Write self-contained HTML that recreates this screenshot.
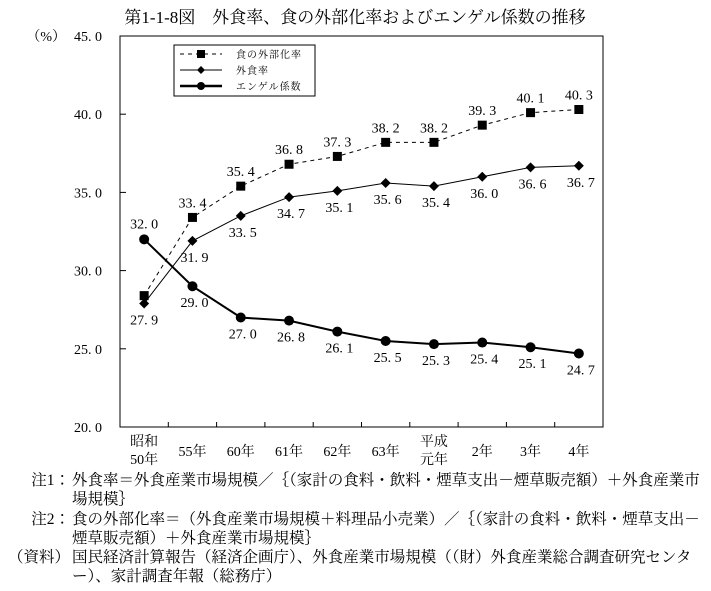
<!DOCTYPE html>
<html><head><meta charset="utf-8"><style>
body{margin:0;background:#fff;width:711px;height:591px;overflow:hidden;font-family:"Liberation Serif","Noto Serif CJK JP","Noto Serif CJK SC",serif;color:#000}
svg text{font-family:"Liberation Serif","Noto Serif CJK JP","Noto Serif CJK SC",serif}
.notes{position:absolute;left:0;top:471px;font-size:15.5px;line-height:19.3px}
.row{position:relative;padding-left:72px;width:630px;word-break:break-all}
.row span{position:absolute;left:0;width:70px;text-align:right}
</style></head><body>
<svg width="711" height="470" style="position:absolute;left:0;top:0">
<text x="355" y="23" font-size="17" text-anchor="middle">第1-1-8図　外食率、食の外部化率およびエンゲル係数の推移</text>
<g id="g"></g>
</svg>
<div class="notes">
<div class="row"><span>注1：</span>外食率＝外食産業市場規模／｛（家計の食料・飲料・煙草支出－煙草販売額）＋外食産業市場規模｝</div>
<div class="row"><span>注2：</span>食の外部化率＝（外食産業市場規模＋料理品小売業）／｛（家計の食料・飲料・煙草支出－煙草販売額）＋外食産業市場規模｝</div>
<div class="row"><span>（資料）</span>国民経済計算報告（経済企画庁）、外食産業市場規模（（財）外食産業総合調査研究センター）、家計調査年報（総務庁）</div>
</div>
<script>
const categories=["昭和\n50年","55年","60年","61年","62年","63年","平成\n元年","2年","3年","4年"];
const gaishokuKa=[28.4,33.4,35.4,36.8,37.3,38.2,38.2,39.3,40.1,40.3];
const gaishoku=[27.9,31.9,33.5,34.7,35.1,35.6,35.4,36.0,36.6,36.7];
const engel=[32.0,29.0,27.0,26.8,26.1,25.5,25.3,25.4,25.1,24.7];
const yTicks=[20,25,30,35,40,45];
const NS="http://www.w3.org/2000/svg";
const L=120,R=603,T=36,B=427,yMin=20,yMax=45;
const g=document.getElementById('g');
const bw=(R-L)/categories.length;
function x(i){return L+bw*(i+0.5);}
function y(v){return B-(v-yMin)/(yMax-yMin)*(B-T);}
function mk(tag,a){const e=document.createElementNS(NS,tag);for(const k in a)e.setAttribute(k,a[k]);g.appendChild(e);return e;}
const frame=mk('rect',{x:L,y:T,width:R-L,height:B-T,fill:'none',stroke:'#000','stroke-width':1});


yTicks.forEach(v=>{
 const t=mk('line',{x1:L,x2:L+6,y1:y(v),y2:y(v),stroke:'#000'});
 
 
 const tx=mk('text',{x:L-18,y:y(v)+5,'font-size':14,'text-anchor':'end'});
 tx.textContent=v.toFixed(1).replace('.','. ');
 
 
});
const pu=mk('text',{x:L-54,y:y(45)+5,'font-size':14,'text-anchor':'end'});pu.textContent='（%）';


categories.forEach((c,i)=>{
 if(i>0){const t=mk('line',{x1:L+bw*i,x2:L+bw*i,y1:B,y2:B-5,stroke:'#000'});
 
 }
 const parts=c.split('\n');
 parts.forEach((p,k)=>{
  const tx=mk('text',{x:x(i),y:(parts.length>1?B+19+k*18:B+29),'font-size':14,'text-anchor':'middle'});
  tx.textContent=p;
  
  
 });
});
function series(arr,name,dash,sw,marker,labelPos){
 const pts=arr.map((v,i)=>x(i)+','+y(v)).join(' ');
 const pl=mk('polyline',{points:pts,fill:'none',stroke:'#000','stroke-width':sw,'stroke-dasharray':dash});
 
 
 arr.forEach((v,i)=>{
  let m;
  if(marker==='sq')m=mk('rect',{x:x(i)-4.5,y:y(v)-4.5,width:9,height:9,fill:'#000'});
  else if(marker==='dia')m=mk('polygon',{points:`${x(i)},${y(v)-5} ${x(i)+5},${y(v)} ${x(i)},${y(v)+5} ${x(i)-5},${y(v)}`,fill:'#000'});
  else m=mk('circle',{cx:x(i),cy:y(v),r:5,fill:'#000'});
  
  
  const lp=labelPos(i);
  if(lp!==null){
   const t=mk('text',{x:x(i)+lp[0],y:y(v)+lp[1],'font-size':14,'text-anchor':'middle'});
   t.textContent=v.toFixed(1).replace('.','. ');
   
   
  }
 });
}
series(gaishokuKa,'food-externalization-rate','4,4',1,'sq',i=>i===0?null:[0,-10]);
series(gaishoku,'eating-out-rate','none',1,'dia',i=>i===0?[0,21]:[2,21]);
series(engel,'engel-coefficient','none',2,'circle',i=>i===0?[0,-11]:[2,21]);
const lg=mk('rect',{x:174,y:45,width:141,height:51,fill:'#fff',stroke:'#000'});


const items=[['食の外部化率','4,4',1,'sq'],['外食率','none',1,'dia'],['エンゲル係数','none',2.5,'circle']];
items.forEach((it,k)=>{
 const yy=54+k*16,cx=201;
 mk('line',{x1:180,x2:222,y1:yy,y2:yy,stroke:'#000','stroke-width':it[2],'stroke-dasharray':it[1]});
 if(it[3]==='sq')mk('rect',{x:cx-4,y:yy-4,width:8,height:8,fill:'#000'});
 else if(it[3]==='dia')mk('polygon',{points:`${cx},${yy-4} ${cx+4},${yy} ${cx},${yy+4} ${cx-4},${yy}`,fill:'#000'});
 else mk('circle',{cx:cx,cy:yy,r:4,fill:'#000'});
 const t=mk('text',{x:236,y:yy+4,'font-size':10,'letter-spacing':1});t.textContent=it[0];
 
 
});
</script>
</body></html>
